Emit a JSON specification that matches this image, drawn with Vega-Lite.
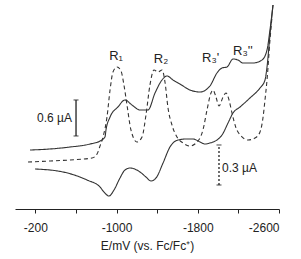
{
  "$schema": "https://vega.github.io/schema/vega-lite/v6.json",
  "width": 264,
  "height": 209,
  "autosize": "none",
  "padding": {"left": 15, "top": 0, "right": 22, "bottom": 50},
  "config": {
    "view": {"stroke": null},
    "font": "Liberation Sans",
    "axis": {"labelFont": "Liberation Sans", "titleFont": "Liberation Sans"}
  },
  "resolve": {"scale": {"strokeDash": "independent"}},
  "datasets": {
    "curves": [
      {"s": "fwd", "E": -148, "i": 0.983},
      {"s": "fwd", "E": -345, "i": 1.0},
      {"s": "fwd", "E": -542, "i": 1.033},
      {"s": "fwd", "E": -739, "i": 1.083},
      {"s": "fwd", "E": -837, "i": 1.133},
      {"s": "fwd", "E": -886, "i": 1.2},
      {"s": "fwd", "E": -896, "i": 1.317},
      {"s": "fwd", "E": -936, "i": 1.533},
      {"s": "fwd", "E": -1014, "i": 1.7},
      {"s": "fwd", "E": -1083, "i": 1.817},
      {"s": "fwd", "E": -1152, "i": 1.733},
      {"s": "fwd", "E": -1231, "i": 1.65},
      {"s": "fwd", "E": -1310, "i": 1.65},
      {"s": "fwd", "E": -1379, "i": 1.933},
      {"s": "fwd", "E": -1448, "i": 2.15},
      {"s": "fwd", "E": -1497, "i": 2.217},
      {"s": "fwd", "E": -1556, "i": 2.15},
      {"s": "fwd", "E": -1625, "i": 2.083},
      {"s": "fwd", "E": -1723, "i": 1.983},
      {"s": "fwd", "E": -1822, "i": 1.95},
      {"s": "fwd", "E": -1920, "i": 2.05},
      {"s": "fwd", "E": -1989, "i": 2.267},
      {"s": "fwd", "E": -2039, "i": 2.35},
      {"s": "fwd", "E": -2088, "i": 2.367},
      {"s": "fwd", "E": -2147, "i": 2.5},
      {"s": "fwd", "E": -2196, "i": 2.483},
      {"s": "fwd", "E": -2245, "i": 2.433},
      {"s": "fwd", "E": -2344, "i": 2.433},
      {"s": "fwd", "E": -2432, "i": 2.483},
      {"s": "fwd", "E": -2482, "i": 2.65},
      {"s": "fwd", "E": -2511, "i": 2.983},
      {"s": "fwd", "E": -2541, "i": 3.4},
      {"s": "rev", "E": -2541, "i": 3.4},
      {"s": "rev", "E": -2511, "i": 2.9},
      {"s": "rev", "E": -2482, "i": 2.367},
      {"s": "rev", "E": -2462, "i": 2.15},
      {"s": "rev", "E": -2413, "i": 2.017},
      {"s": "rev", "E": -2314, "i": 1.85},
      {"s": "rev", "E": -2216, "i": 1.7},
      {"s": "rev", "E": -2147, "i": 1.6},
      {"s": "rev", "E": -2098, "i": 1.433},
      {"s": "rev", "E": -2039, "i": 1.233},
      {"s": "rev", "E": -1989, "i": 1.15},
      {"s": "rev", "E": -1920, "i": 1.1},
      {"s": "rev", "E": -1871, "i": 1.083},
      {"s": "rev", "E": -1822, "i": 1.117},
      {"s": "rev", "E": -1753, "i": 1.167},
      {"s": "rev", "E": -1694, "i": 1.167},
      {"s": "rev", "E": -1605, "i": 1.15},
      {"s": "rev", "E": -1526, "i": 1.033},
      {"s": "rev", "E": -1458, "i": 0.767},
      {"s": "rev", "E": -1389, "i": 0.517},
      {"s": "rev", "E": -1339, "i": 0.467},
      {"s": "rev", "E": -1290, "i": 0.533},
      {"s": "rev", "E": -1231, "i": 0.617},
      {"s": "rev", "E": -1133, "i": 0.683},
      {"s": "rev", "E": -1083, "i": 0.65},
      {"s": "rev", "E": -1034, "i": 0.517},
      {"s": "rev", "E": -975, "i": 0.317},
      {"s": "rev", "E": -926, "i": 0.217},
      {"s": "rev", "E": -876, "i": 0.283},
      {"s": "rev", "E": -837, "i": 0.367},
      {"s": "rev", "E": -709, "i": 0.483},
      {"s": "rev", "E": -473, "i": 0.617},
      {"s": "rev", "E": -197, "i": 0.667},
      {"s": "dpv", "E": -128, "i": 0.783},
      {"s": "dpv", "E": -345, "i": 0.8},
      {"s": "dpv", "E": -542, "i": 0.817},
      {"s": "dpv", "E": -758, "i": 0.85},
      {"s": "dpv", "E": -808, "i": 0.917},
      {"s": "dpv", "E": -837, "i": 1.05},
      {"s": "dpv", "E": -867, "i": 1.2},
      {"s": "dpv", "E": -906, "i": 1.533},
      {"s": "dpv", "E": -936, "i": 1.983},
      {"s": "dpv", "E": -965, "i": 2.283},
      {"s": "dpv", "E": -1005, "i": 2.367},
      {"s": "dpv", "E": -1044, "i": 2.3},
      {"s": "dpv", "E": -1073, "i": 2.067},
      {"s": "dpv", "E": -1103, "i": 1.733},
      {"s": "dpv", "E": -1142, "i": 1.317},
      {"s": "dpv", "E": -1201, "i": 1.117},
      {"s": "dpv", "E": -1251, "i": 1.2},
      {"s": "dpv", "E": -1290, "i": 1.567},
      {"s": "dpv", "E": -1329, "i": 2.067},
      {"s": "dpv", "E": -1369, "i": 2.317},
      {"s": "dpv", "E": -1408, "i": 2.283},
      {"s": "dpv", "E": -1448, "i": 2.317},
      {"s": "dpv", "E": -1477, "i": 2.117},
      {"s": "dpv", "E": -1507, "i": 1.683},
      {"s": "dpv", "E": -1546, "i": 1.4},
      {"s": "dpv", "E": -1595, "i": 1.2},
      {"s": "dpv", "E": -1654, "i": 1.1},
      {"s": "dpv", "E": -1723, "i": 1.05},
      {"s": "dpv", "E": -1802, "i": 1.133},
      {"s": "dpv", "E": -1851, "i": 1.317},
      {"s": "dpv", "E": -1891, "i": 1.65},
      {"s": "dpv", "E": -1930, "i": 1.933},
      {"s": "dpv", "E": -1950, "i": 1.983},
      {"s": "dpv", "E": -1979, "i": 1.867},
      {"s": "dpv", "E": -2009, "i": 1.717},
      {"s": "dpv", "E": -2049, "i": 1.867},
      {"s": "dpv", "E": -2078, "i": 1.933},
      {"s": "dpv", "E": -2108, "i": 1.817},
      {"s": "dpv", "E": -2137, "i": 1.6},
      {"s": "dpv", "E": -2177, "i": 1.35},
      {"s": "dpv", "E": -2226, "i": 1.217},
      {"s": "dpv", "E": -2295, "i": 1.15},
      {"s": "dpv", "E": -2364, "i": 1.183},
      {"s": "dpv", "E": -2413, "i": 1.283},
      {"s": "dpv", "E": -2442, "i": 1.517},
      {"s": "dpv", "E": -2462, "i": 1.817},
      {"s": "dpv", "E": -2482, "i": 2.15},
      {"s": "dpv", "E": -2511, "i": 2.817},
      {"s": "dpv", "E": -2531, "i": 3.2}
    ],
    "bars": [
      {"s": "cv", "E": -601, "i": 1.217, "i2": 1.817},
      {"s": "dpv", "E": -2009, "i": 0.4, "i2": 1.067}
    ],
    "caps": [
      {"s": "cv", "E": -601, "i": 1.217},
      {"s": "cv", "E": -601, "i": 1.817},
      {"s": "dpv", "E": -2009, "i": 0.4},
      {"s": "dpv", "E": -2009, "i": 1.067}
    ],
    "labels": [
      {"t": "R₁", "E": -995, "i": 2.483, "a": "center"},
      {"t": "R₂", "E": -1438, "i": 2.433, "a": "center"},
      {"t": "R₃'", "E": -1842, "i": 2.45, "a": "left"},
      {"t": "R₃''", "E": -2147, "i": 2.567, "a": "left"},
      {"t": "0.6 µA", "E": -561, "i": 1.45, "a": "right"},
      {"t": "0.3 µA", "E": -2039, "i": 0.62, "a": "scale"}
    ]
  },
  "encoding": {
    "x": {
      "field": "E",
      "type": "quantitative",
      "scale": {"domain": [0, -2600], "nice": false, "zero": false},
      "axis": {
        "values": [-200, -600, -1000, -1400, -1800, -2200, -2600],
        "labelExpr": "'' + datum.value",
        "grid": false,
        "domainColor": "#222",
        "tickColor": "#222",
        "tickSize": 4,
        "labelFontSize": 12,
        "labelColor": "#222",
        "labelPadding": 9,
        "title": "E/mV (vs. Fc/Fc⁺)",
        "titleFontSize": 12,
        "titleFontWeight": "normal",
        "titleColor": "#222",
        "titlePadding": 7
      }
    },
    "y": {
      "field": "i",
      "type": "quantitative",
      "scale": {"domain": [0, 3.483], "nice": false, "zero": false},
      "axis": null
    }
  },
  "layer": [
    {
      "data": {"name": "curves"},
      "mark": {"type": "line", "color": "#333", "strokeWidth": 1.1, "interpolate": "monotone"},
      "encoding": {
        "detail": {"field": "s"},
        "strokeDash": {
          "field": "s",
          "type": "nominal",
          "scale": {"domain": ["dpv", "fwd", "rev"], "range": [[4, 3], [1, 0], [1, 0]]},
          "legend": null
        }
      }
    },
    {
      "data": {"name": "bars"},
      "mark": {"type": "rule", "color": "#222", "strokeWidth": 1.3},
      "encoding": {
        "y2": {"field": "i2"},
        "strokeDash": {
          "field": "s",
          "type": "nominal",
          "scale": {"domain": ["cv", "dpv"], "range": [[1, 0], [2, 2]]},
          "legend": null
        }
      }
    },
    {
      "data": {"name": "caps"},
      "mark": {"type": "tick", "orient": "horizontal", "color": "#222", "thickness": 1.2, "size": 5}
    },
    {
      "data": {"name": "labels"},
      "transform": [{"filter": "datum.a == 'center'"}],
      "mark": {"type": "text", "fontSize": 13, "color": "#222", "baseline": "alphabetic", "align": "center"},
      "encoding": {"text": {"field": "t"}}
    },
    {
      "data": {"name": "labels"},
      "transform": [{"filter": "datum.a == 'left'"}],
      "mark": {"type": "text", "fontSize": 13, "color": "#222", "baseline": "alphabetic", "align": "left"},
      "encoding": {"text": {"field": "t"}}
    },
    {
      "data": {"name": "labels"},
      "transform": [{"filter": "datum.a == 'right'"}],
      "mark": {"type": "text", "fontSize": 12, "color": "#222", "baseline": "alphabetic", "align": "right"},
      "encoding": {"text": {"field": "t"}}
    },
    {
      "data": {"name": "labels"},
      "transform": [{"filter": "datum.a == 'scale'"}],
      "mark": {"type": "text", "fontSize": 12, "color": "#222", "baseline": "alphabetic", "align": "left"},
      "encoding": {"text": {"field": "t"}}
    }
  ]
}
